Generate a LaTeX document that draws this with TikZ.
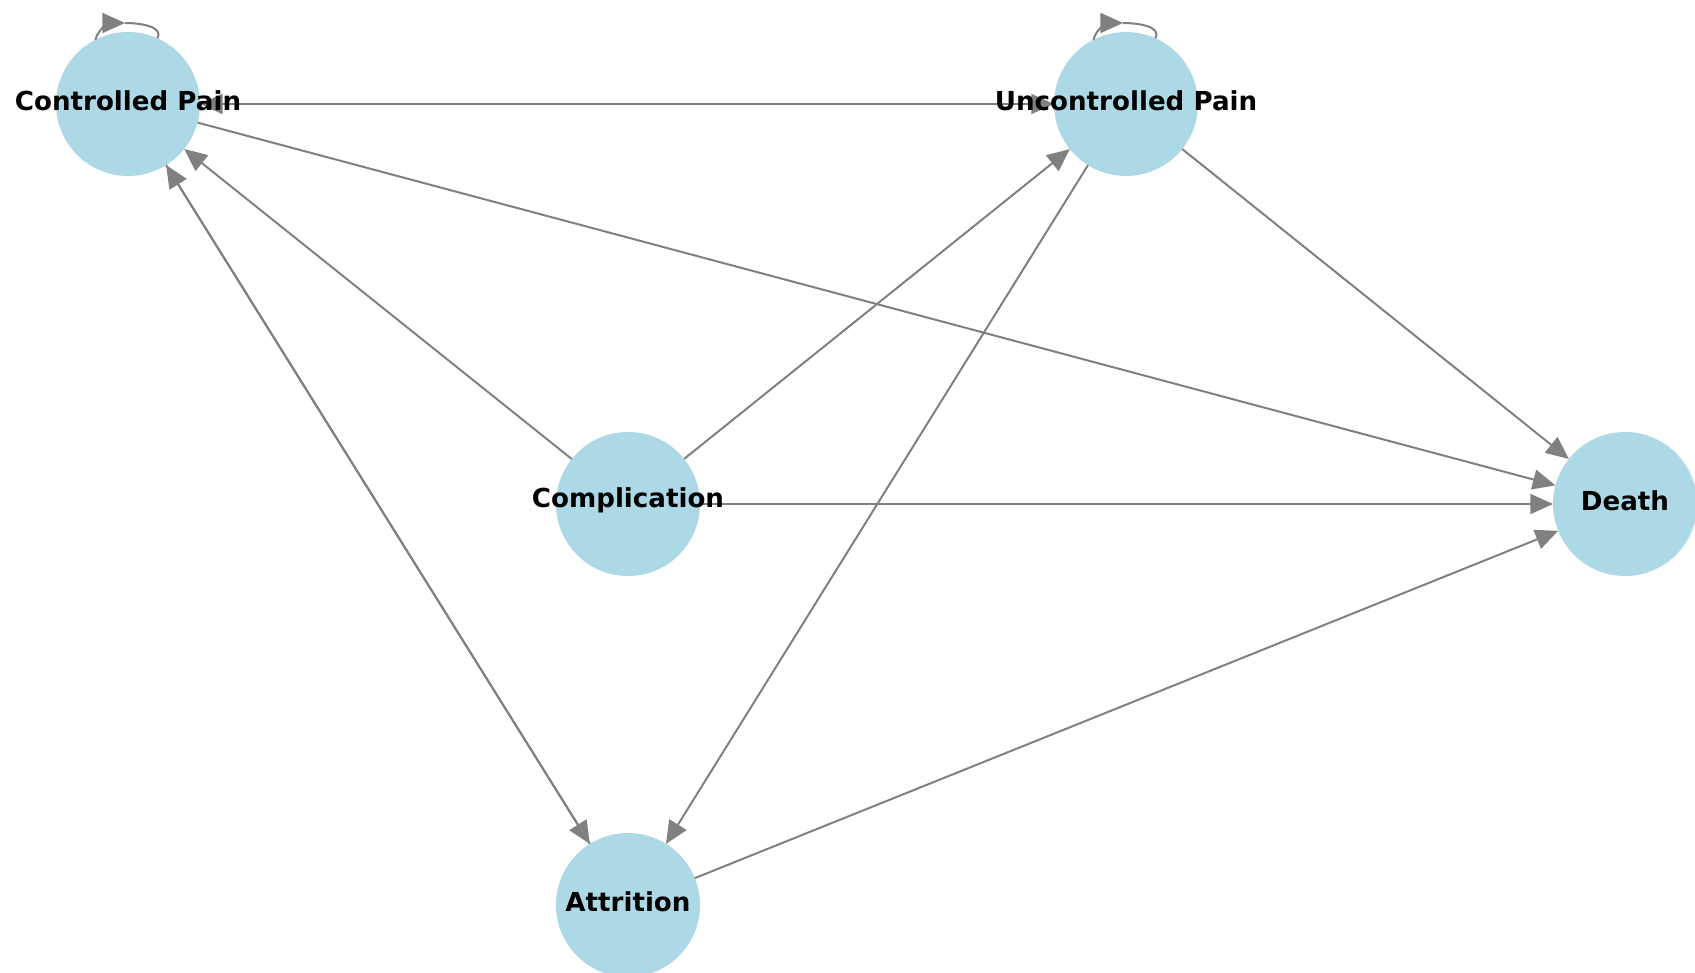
\documentclass[tikz,border=0pt]{standalone}
\usepackage{fontspec}
\setmainfont{DejaVu Sans}
\usetikzlibrary{arrows.meta}
\definecolor{nodeblue}{RGB}{173,216,230}
\definecolor{edgegray}{RGB}{128,128,128}
\begin{document}
\begin{tikzpicture}[x=0.75pt,y=-0.75pt]

      \useasboundingbox (0,0) rectangle (1695,973);

      \begin{scope}[every node/.style={circle,fill=nodeblue,minimum size=108pt,inner sep=0pt,outer sep=0pt}]
        \node (cp)    at (128,104)  {};
        \node (up)    at (1126,104) {};
        \node (comp)  at (628,504)  {};
        \node (death) at (1625,504) {};
        \node (att)   at (628,905)  {};
      \end{scope}

      \coordinate (cptop) at (125,23);
      \coordinate (uptop) at (1123,23);

      \begin{scope}[every edge/.style={draw,edgegray,line width=1.5pt,-{Triangle[length=17pt,width=15pt]}}]
        \path (cp)   edge (up);
        \path (up)   edge (cp);
        \path (cp)   edge (death);
        \path (cp)   edge (att);
        \path (att)  edge (cp);
        \path (comp) edge (cp);
        \path (comp) edge (up);
        \path (comp) edge (death);
        \path (up)   edge (att);
        \path (up)   edge (death);
        \path (att)  edge (death);
        \path (cp.117) edge[out=75,in=180] (cptop);
        \path (up.117) edge[out=75,in=180] (uptop);
      \end{scope}

      \begin{scope}[edgegray,line width=1.5pt]
        \draw (cptop) to[out=0,in=60] (cp.66);
        \draw (uptop) to[out=0,in=60] (up.66);
      \end{scope}

      \begin{scope}[every node/.style={font=\bfseries\fontsize{19.6}{22}\selectfont,inner sep=0pt,yshift=2.5pt}]
        \node (cplabel)    at (cp)    {Controlled Pain};
        \node (uplabel)    at (up)    {Uncontrolled Pain};
        \node (complabel)  at (comp)  {Complication};
        \node (deathlabel) at (death) {Death};
        \node (attlabel)   at (att)   {Attrition};
      \end{scope}

    \end{tikzpicture}
\end{document}
